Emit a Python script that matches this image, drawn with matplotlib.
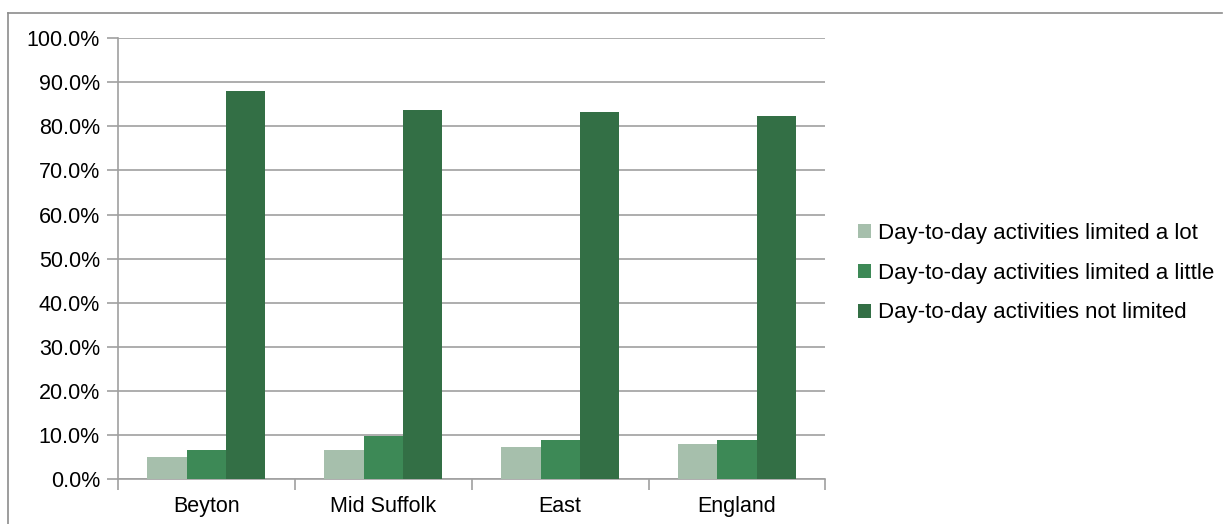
import matplotlib
matplotlib.use("Agg")
import matplotlib.pyplot as plt
from matplotlib.ticker import FuncFormatter, FixedLocator
from matplotlib.lines import Line2D
import numpy as np

categories = ["Beyton", "Mid Suffolk", "East", "England"]
series_names = ["Day-to-day activities limited a lot",
                "Day-to-day activities limited a little",
                "Day-to-day activities not limited"]
limited_lot = [5.1, 6.6, 7.3, 8.1]
limited_little = [6.6, 9.8, 9.0, 9.0]
not_limited = [87.9, 83.6, 83.3, 82.3]
colors = ["#A6BFAC", "#3D8956", "#336F45"]

plt.rcParams['font.family'] = ['Liberation Sans', 'DejaVu Sans']

W, H = 1223, 524
fig = plt.figure(figsize=(W / 100, H / 100), dpi=100)
ax = fig.add_axes([118 / W, (H - 479.3) / H, (825.5 - 118) / W, (479.3 - 38) / H])

x = np.arange(len(categories))
bw = 0.2222
for i, (vals, c, name) in enumerate(zip([limited_lot, limited_little, not_limited], colors, series_names)):
    ax.bar(x + (i - 1) * bw, vals, width=bw, color=c, label=name, zorder=3)

ax.set_xlim(-0.5, len(categories) - 0.5)
ax.set_ylim(0, 100)
ax.set_yticks(np.arange(0, 101, 10))
ax.yaxis.set_major_formatter(FuncFormatter(lambda v, p: f"{v:.1f}%"))
ax.set_xticks(x)
ax.set_xticklabels(categories)
ax.xaxis.set_minor_locator(FixedLocator(np.arange(-0.5, len(categories), 1.0)))
ax.tick_params(axis='x', which='major', length=0, pad=12, labelsize=15.5, colors='black')
ax.tick_params(axis='x', which='minor', length=8, width=1.2, color='#A0A0A0')
ax.tick_params(axis='y', length=8, width=1.2, color='#A0A0A0', labelsize=15.5, pad=5)
ax.grid(axis='y', color='#A0A0A0', linewidth=1.2, zorder=0)
for s in ['top', 'right']:
    ax.spines[s].set_visible(False)
for s in ['left', 'bottom']:
    ax.spines[s].set_color('#A0A0A0')
    ax.spines[s].set_linewidth(1.2)

leg = fig.legend(loc='center left', bbox_to_anchor=(858 / W, (H - 273) / H), frameon=False,
                 fontsize=16, handlelength=0.6, handleheight=0.6, handletextpad=0.3,
                 labelspacing=0.85, borderaxespad=0, borderpad=0)

# outer frame
fig.add_artist(Line2D([8 / W, 8 / W], [0, (H - 13) / H], color='#8C8C8C', linewidth=1.2))
fig.add_artist(Line2D([8 / W, 1222 / W], [(H - 13) / H, (H - 13) / H], color='#8C8C8C', linewidth=1.2))

fig.savefig("out.png", dpi=100)
